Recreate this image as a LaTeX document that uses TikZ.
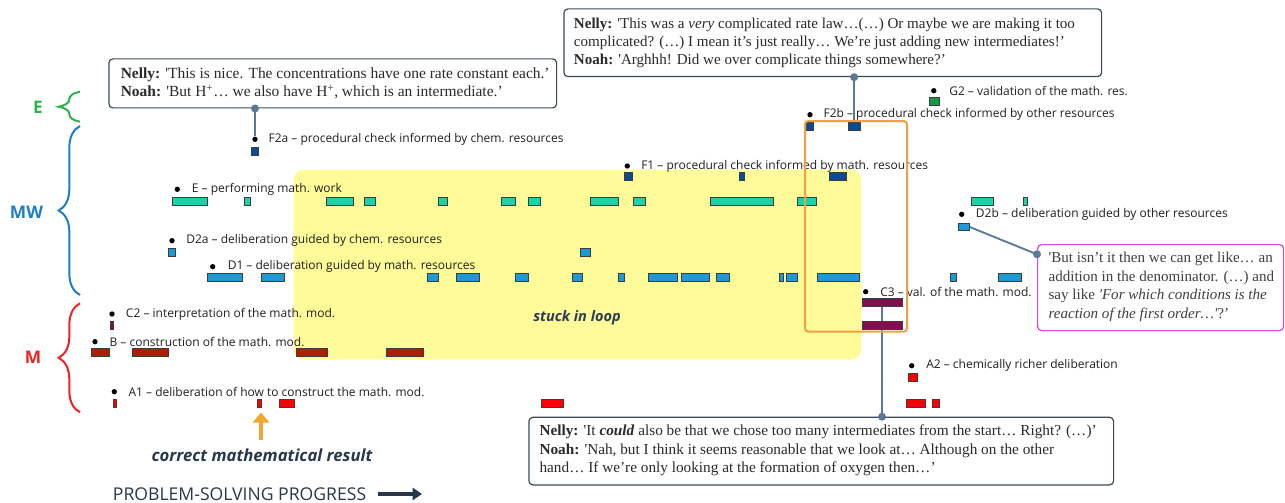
\documentclass[tikz,border=0pt]{standalone}
\usepackage{fontspec}
\setmainfont{Liberation Serif}
\setsansfont{Open Sans}
\usetikzlibrary{decorations.pathreplacing,arrows.meta}
\definecolor{cE}{HTML}{1FD1A6}
\definecolor{cD}{HTML}{1B9AD6}
\definecolor{cF}{HTML}{0D4A94}
\definecolor{cG}{HTML}{169B45}
\definecolor{cC}{HTML}{8A0A50}
\definecolor{cB}{HTML}{B01E02}
\definecolor{cA}{HTML}{FF0000}
\definecolor{cYel}{HTML}{FFFB98}
\definecolor{cOr}{HTML}{F2A043}
\definecolor{cMag}{HTML}{DE45DE}
\definecolor{cCon}{HTML}{5B7896}
\definecolor{cBox}{HTML}{3B4A58}
\definecolor{cTxt}{HTML}{2A2A2A}
\definecolor{cDark}{HTML}{27384A}
\definecolor{cStuck}{HTML}{2B3C5A}
\definecolor{cBrE}{HTML}{2DB34A}
\definecolor{cBrMW}{HTML}{1E7EC8}
\definecolor{cBrM}{HTML}{EE2222}
\definecolor{cArr}{HTML}{F0A830}
\definecolor{cEdge}{HTML}{3D3D3D}
\pgfdeclarelayer{bg}
\pgfsetlayers{bg,main}
\newcommand\bx[6]{\node[barbox,fill=#2,minimum width={(#4-#3)*0.75pt},minimum height={(#6-#5)*0.75pt}] (#1) at ({(#3+#4)/2},{(#5+#6)/2}) {};}
\newcommand\lab[5]{\node[dotnode] (#1d) at (#2,#3) {};\node[labtext] (#1) at (#4,#3) {#5};}
\newcommand\q{\textquotesingle}
\begin{document}
\begin{tikzpicture}[x=0.75pt,y=-0.75pt,
  barbox/.style={draw=cEdge,line width=0.45pt,inner sep=0pt,outer sep=0pt,rectangle},
  dotnode/.style={circle,fill=black,inner sep=0pt,minimum size=4pt},
  labtext/.style={anchor=west,inner sep=0pt,font=\sffamily\fontsize{9}{11}\selectfont,text=black!88},
  cbox/.style={draw=cBox,line width=0.9pt,rounded corners=3pt,fill=white,inner sep=0pt,anchor=north west},
  ctext/.style={anchor=west,inner sep=0pt,align=left,text=cTxt},
  conn/.style={draw=cCon,line width=1.4pt},
  cdot/.style={circle,fill=cCon,inner sep=0pt,minimum size=6pt},
  brlab/.style={font=\sffamily\bfseries\fontsize{13}{15}\selectfont},
  brc/.style={line width=1.5pt,decorate,decoration={brace,amplitude=16pt}}
]
\useasboundingbox (0,0) rectangle (1285,503);
% yellow loop area
\begin{pgfonlayer}{bg}
\node[fill=cYel,rounded corners=8pt,anchor=north west,inner sep=0pt,minimum width={(861-293.3)*0.75pt},minimum height={(359.3-169.3)*0.75pt}] (loop) at (293.3,169.3) {};
\end{pgfonlayer}
\node[font=\sffamily\bfseries\itshape\fontsize{10.9}{12}\selectfont,text=cStuck] (stuck) at (577,318) {stuck in loop};

% braces
\draw[brc,cBrE] (80,121.7) -- (80,91.7);
\draw[brc,cBrMW] (80,295) -- (80,126);
\draw[brc,cBrM] (80,412.3) -- (80,303.3);
\node[brlab,text=cBrE] (lE) at (38,107) {E};
\node[brlab,text=cBrMW] (lMW) at (26.5,212) {MW};
\node[brlab,text=cBrM] (lM) at (33,357) {M};

% labels
\lab{F2a}{255}{139.3}{268.3}{F2a – procedural check informed by chem. resources}
\lab{Elab}{177.3}{189.3}{191.7}{E – performing math. work}
\lab{D2a}{172}{240.7}{186}{D2a – deliberation guided by chem. resources}
\lab{D1}{212.7}{266.7}{227.5}{D1 – deliberation guided by math. resources}
\lab{C2}{112}{314}{125.7}{C2 – interpretation of the math. mod.}
\lab{B}{95}{341.7}{109.3}{B – construction of the math. mod.}
\lab{A1}{114.3}{391.7}{128.3}{A1 – deliberation of how to construct the math. mod.}
\lab{F1}{627.3}{166}{641}{F1 – procedural check informed by math. resources}
\lab{F2b}{810}{114.7}{823.3}{F2b – procedural check informed by other resources}
\lab{G2}{933.8}{90.7}{949}{G2 – validation of the math. res.}
\lab{D2b}{961.7}{214.3}{975.7}{D2b – deliberation guided by other resources}
\lab{C3}{865.7}{291.7}{880}{C3 – val. of the math. mod.}
\lab{A2}{911.7}{365.7}{926}{A2 – chemically richer deliberation}

% bars
\bx{bF2a1}{cF}{251.7}{258.3}{147.3}{155.7}
\bx{bG21}{cG}{928.8}{939.5}{97.3}{105.3}
\foreach \a/\b [count=\i] in {806.7/813.3,848.3/860} {\bx{bF2b\i}{cF}{\a}{\b}{122.7}{130}}
\foreach \a/\b [count=\i] in {624.3/632.7,739/744.3,829.3/846} {\bx{bF1\i}{cF}{\a}{\b}{172.7}{180.7}}
\foreach \a/\b [count=\i] in {172.7/207.3,244.3/250.3,326/353.7,364.3/375,438.3/447.3,501/515.7,528.7/540,590.7/618,633/645.7,710.3/773.7,797.3/816,971.7/993.7,1023/1027.3} {\bx{bE\i}{cE}{\a}{\b}{197.7}{205.7}}
\bx{bD2b1}{cD}{958.3}{969.7}{223.3}{230.7}
\foreach \a/\b [count=\i] in {168.3/175,580.3/590} {\bx{bD2a\i}{cD}{\a}{\b}{248}{256.3}}
\foreach \a/\b [count=\i] in {207.7/242.7,261.7/284.7,427.7/438.7,456.3/479.7,515/528,572.3/582,618/624.7,648/677.7,681.3/709.7,716.7/729,779/783,786/797.3,817.2/859,950/956.7,998.3/1021} {\bx{bD1\i}{cD}{\a}{\b}{273.3}{281}}
\bx{bC31}{cC}{862}{902}{298.3}{306}
\bx{bC32}{cC}{862}{902}{321.3}{329}
\bx{bC21}{cC}{110.7}{113.7}{321.3}{329}
\foreach \a/\b [count=\i] in {91/109.3,132.3/168,296/327,386/423.7} {\bx{bB\i}{cB}{\a}{\b}{348.7}{356.3}}
\bx{bA21}{cA}{908.3}{917.7}{373.3}{381.7}
\foreach \a/\b [count=\i] in {113.3/116,257.3/261.7,279.3/294.7,541.7/563.3,906/925,932.3/939.3} {\bx{bA1\i}{cA}{\a}{\b}{399}{407}}

% highlight
\node[draw=cOr,line width=1.5pt,rounded corners=2.5pt,anchor=north west,inner sep=0pt,minimum width={(906-804)*0.75pt},minimum height={(330.7-120)*0.75pt}] (hl) at (804,120) {};

% callouts
\node[cbox,minimum width={(556-108.3)*0.75pt},minimum height={(107.3-58.3)*0.75pt}] (cl) at (108.3,58.3) {};
\node[ctext,font=\fontsize{11.6}{14.2}\selectfont] (clt) at (120.5,83.3) {\textbf{Nelly:} \q This is nice. The concentrations have one rate constant each.’\\\textbf{Noah:} \q But H\textsuperscript{+}… we also have H\textsuperscript{+}, which is an intermediate.’};

\node[cbox,minimum width={(1101-563.4)*0.75pt},minimum height={(76-8.3)*0.75pt}] (ct) at (563.4,8.3) {};
\node[ctext,font=\fontsize{11.3}{13.5}\selectfont] (ctt) at (573.7,42.8) {\textbf{Nelly:} \q This was a \textit{very} complicated rate law…(…) Or maybe we are making it too\\complicated? (…) I mean it’s just really… We’re just adding new intermediates!’\\\textbf{Noah:} \q Arghhh! Did we over complicate things somewhere?’};

\node[cbox,draw=cMag,minimum width={(1283-1037)*0.75pt},minimum height={(330-244)*0.75pt}] (cr) at (1037,244) {};
\node[ctext,text=black!75,font=\fontsize{11.3}{13.9}\selectfont] (crt) at (1048.3,287) {\q But isn’t it then we can get like… an\\addition in the denominator. (…) and\\say like \textit{\q For which conditions is the}\\\textit{reaction of the first order…\q}?’};

\node[cbox,minimum width={(1113-528.3)*0.75pt},minimum height={(484.3-416.7)*0.75pt}] (cb) at (528.3,416.7) {};
\node[ctext,font=\fontsize{11.45}{13.7}\selectfont] (cbt) at (539.3,450.3) {\textbf{Nelly:} \q It \textbf{\textit{could}} also be that we chose too many intermediates from the start… Right? (…)’\\\textbf{Noah:} \q Nah, but I think it seems reasonable that we look at… Although on the other\\hand… If we’re only looking at the formation of oxygen then…’};

% connectors
\begin{pgfonlayer}{bg}
\draw[conn] (F2ad |- cl.south) -- (F2ad);
\draw[conn] (bF2b2 |- ct.south) -- (bF2b2.north);
\draw[conn] (bD2b1.east) -- ([yshift=-7.7pt]cr.north west);
\draw[conn] (bC31.south) -- (bC31 |- cb.north);
\end{pgfonlayer}
\node[cdot] (k1) at (F2ad |- cl.south) {};
\node[cdot] (k2) at (bF2b2 |- ct.south) {};
\node[cdot] (k3) at ([yshift=-7.7pt]cr.north west) {};
\node[cdot] (k4) at (bC31 |- cb.north) {};

% bottom annotations
\node[font=\sffamily\bfseries\itshape\fontsize{12.5}{14}\selectfont,text=cDark] (cmr) at (262,455) {correct mathematical result};
\coordinate (arrtip) at (261,412.5);
\draw[cArr,line width=3.6pt,-{Triangle[width=12pt,length=7.5pt]}] (cmr.north -| arrtip) ++(0,-4) -- (arrtip);
\node[font=\sffamily\fontsize{13.2}{15}\selectfont,text=cDark,anchor=west,inner sep=0pt] (psp) at (112.7,494.5) {PROBLEM-SOLVING PROGRESS};
\coordinate (pend) at (422,494);
\draw[cDark,line width=2.3pt,-{Triangle[width=9pt,length=7pt]}] ([xshift=9pt]psp.east |- pend) -- (pend);
\end{tikzpicture}
\end{document}
